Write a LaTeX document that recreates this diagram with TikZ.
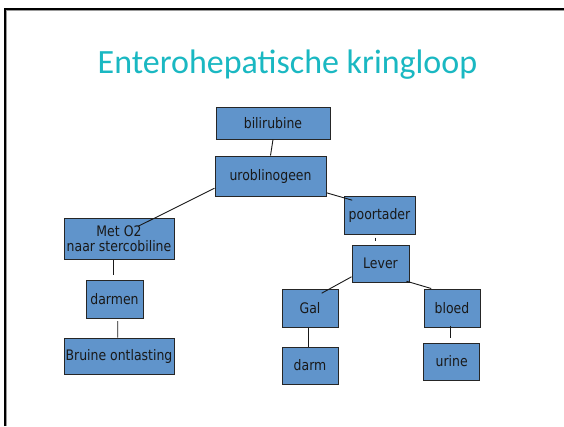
\documentclass[tikz,border=0pt]{standalone}
\usepackage{fontspec}
\setmainfont{DejaVu Sans}
\newfontfamily\boxfont[FakeStretch=0.86]{DejaVu Sans}
\newfontfamily\titlefont{Carlito}
\usetikzlibrary{calc}
\definecolor{boxblue}{RGB}{96,148,203}
\definecolor{titlecol}{RGB}{26,184,194}
\tikzset{
  bx/.style={draw=black!85, line width=1bp, fill=boxblue, inner sep=0pt, align=center,
    font=\boxfont\fontsize{14.5bp}{15bp}\selectfont, text=black!90},
  conn/.style={draw=black!90, line width=0.9bp},
}
\begin{document}
\begin{tikzpicture}[x=1bp,y=-1bp]
\useasboundingbox (0,0) rectangle (564,426);
\fill[white] (0,0) rectangle (564,426);
\draw[black!40, line width=0.8bp] (6.5,426) -- (6.5,10) -- (564,10);
\draw[black, line width=2bp] (5,426) -- (5,8.5) -- (564,8.5);
\node[anchor=base, text=titlecol, font=\titlefont\fontsize{34bp}{40bp}\selectfont] (title) at (287.5,73) {Enterohepatische kringloop};

\node[bx, minimum width=114bp, minimum height=32bp] (bili) at (273,123) {bilirubine};
\node[bx, minimum width=111bp, minimum height=40bp] (uro) at (270.5,176) {uroblinogeen};
\node[bx, minimum width=110bp, minimum height=41bp] (met) at (119,238.5) {Met O2\\naar stercobiline};
\node[bx, minimum width=57bp, minimum height=38bp] (darmen) at (114.5,299) {darmen};
\node[bx, minimum width=110bp, minimum height=36bp] (bruine) at (119,356) {Bruine ontlasting};
\node[bx, minimum width=71bp, minimum height=38bp] (poort) at (379.5,215) {poortader};
\node[bx, minimum width=57bp, minimum height=37bp] (lever) at (380.5,263.5) {Lever};
\node[bx, minimum width=56bp, minimum height=38bp] (gal) at (310,308) {Gal};
\node[bx, minimum width=56bp, minimum height=37bp] (darm) at (310,365.5) {darm};
\node[bx, minimum width=56bp, minimum height=38bp] (bloed) at (452,308) {bloed};
\node[bx, minimum width=56.5bp, minimum height=37bp] (urine) at (451.7,361.5) {urine};

\draw[conn] (bili.south) -- (uro.north);
\draw[conn] ($(uro.south west)+(0,-8.3)$) -- ($(met.north)+(19.3,8.7)$);
\draw[conn] ($(uro.south east)+(0,-3.7)$) -- ($(poort.north west)+(8.7,4.7)$);
\draw[conn] ($(poort.south)+(-4.5,3)$) -- ($(lever.north)+(-5.5,-4)$);
\draw[conn] ($(lever.south west)+(0,-5.7)$) -- ($(gal.north)+(11.7,4.7)$);
\draw[conn] ($(lever.south east)+(-3,-1.3)$) -- ($(bloed.north west)+(7.7,0)$);
\draw[conn] ($(gal.south)+(-1.7,0)$) -- ($(darm.north)+(-1.7,0)$);
\draw[conn] ($(bloed.south)+(-1.7,-1.7)$) -- ($(urine.north)+(-1.4,-4.7)$);
\draw[conn] ($(met.south)+(-5.7,0)$) -- ($(darmen.north)+(-1.2,-4.3)$);
\draw[conn] ($(darmen.south)+(3.2,2.7)$) -- ($(bruine.north)+(-1.3,0)$);
\end{tikzpicture}
\end{document}
